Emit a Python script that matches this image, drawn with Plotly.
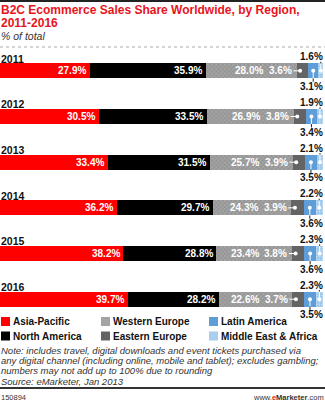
import plotly.graph_objects as go

years = ["2011", "2012", "2013", "2014", "2015", "2016"]
asia_pacific = [27.9, 30.5, 33.4, 36.2, 38.2, 39.7]
north_america = [35.9, 33.5, 31.5, 29.7, 28.8, 28.2]
western_europe = [28.0, 26.9, 25.7, 24.3, 23.4, 22.6]
eastern_europe = [3.6, 3.8, 3.9, 3.9, 3.8, 3.7]
latin_america = [3.1, 3.4, 3.5, 3.6, 3.6, 3.5]
mea = [1.6, 1.9, 2.1, 2.2, 2.3, 2.3]

series_names = ["Asia-Pacific", "North America", "Western Europe",
                "Eastern Europe", "Latin America", "Middle East & Africa"]

W, H = 325, 406
MT, MB = 48, 84
PH = H - MT - MB
FONT = "Liberation Sans, Arial, sans-serif"

def py(px):
    return (H - MB - px) / PH

def pxx(px):
    return px / W

idx = list(range(len(years)))
BW = 0.33

fig = go.Figure()
colors = {
    "Asia-Pacific": "#ff0000",
    "North America": "#000000",
    "Western Europe": "#a4a4a4",
    "Eastern Europe": "#646464",
    "Latin America": "#5e9dd8",
    "Middle East & Africa": "#a8cfee",
}
data = [asia_pacific, north_america, western_europe, eastern_europe, latin_america, mea]
for name, vals in zip(series_names, data):
    marker = dict(color=colors[name], line=dict(width=0))
    if name == "Western Europe":
        marker["pattern"] = dict(shape="x", size=3, solidity=0.35,
                                 fgcolor="#c8c8c8", bgcolor="#969696")
    if name == "Middle East & Africa":
        marker["pattern"] = dict(shape=".", size=3, solidity=0.3,
                                 fgcolor="#e6f2fb", bgcolor="#9ec8ec")
    fig.add_trace(go.Bar(y=idx, x=vals, orientation="h", width=BW,
                         marker=marker, name=name, showlegend=False,
                         hoverinfo="skip"))

ann = []
shapes = []
dots_x, dots_y = [], []
lab_font = dict(family=FONT, size=10, color="white")
dark_font = dict(family=FONT, size=10, color="#111")

for i in idx:
    c1 = asia_pacific[i]
    c2 = c1 + north_america[i]
    c3 = c2 + western_europe[i]
    c4 = c3 + eastern_europe[i]
    c5 = c4 + latin_america[i]
    c6 = c5 + mea[i]
    # year label
    ann.append(dict(x=0, xref="paper", y=i - 0.27, yref="y", xanchor="left",
                    yanchor="middle", text="<b>%s</b>" % years[i],
                    showarrow=False, font=dict(family=FONT, size=10.5, color="#111"),
                    borderpad=0))
    # inside labels
    ann.append(dict(x=c1 - 0.9, y=i, xref="x", yref="y", xanchor="right",
                    yanchor="middle", text="<b>%.1f%%</b>" % asia_pacific[i],
                    showarrow=False, font=lab_font, borderpad=0))
    ann.append(dict(x=c2 - 0.9, y=i, xref="x", yref="y", xanchor="right",
                    yanchor="middle", text="<b>%.1f%%</b>" % north_america[i],
                    showarrow=False, font=lab_font, borderpad=0))
    ann.append(dict(x=c3 - 10.0, y=i, xref="x", yref="y", xanchor="right",
                    yanchor="middle", text="<b>%.1f%%</b>" % western_europe[i],
                    showarrow=False, font=lab_font, borderpad=0))
    ann.append(dict(x=c3 - 1.1, y=i, xref="x", yref="y", xanchor="right",
                    yanchor="middle", text="<b>%.1f%%</b>" % eastern_europe[i],
                    showarrow=False, font=lab_font, borderpad=0))
    # EE leader
    shapes.append(dict(type="line", xref="x", yref="y", x0=c3 - 1.0, x1=c3 + 1.1,
                       y0=i, y1=i, line=dict(color="white", width=1)))
    dots_x.append(c3 + 1.1); dots_y.append(i)
    # LA
    xla = (c4 + c5) / 2
    shapes.append(dict(type="line", xref="x", yref="y", x0=xla, x1=xla,
                       y0=i, y1=i + BW / 2, line=dict(color="white", width=1)))
    shapes.append(dict(type="line", xref="x", yref="y", x0=xla, x1=xla,
                       y0=i + BW / 2, y1=i + 0.24, line=dict(color="#222", width=1)))
    dots_x.append(xla); dots_y.append(i)
    ann.append(dict(x=100.4, y=i + 0.34, xref="x", yref="y", xanchor="right",
                    yanchor="middle", text="<b>%.1f%%</b>" % latin_america[i],
                    showarrow=False, font=dark_font, borderpad=0))
    # MEA
    xme = (c5 + c6) / 2
    shapes.append(dict(type="line", xref="x", yref="y", x0=xme, x1=xme,
                       y0=i, y1=i - BW / 2, line=dict(color="white", width=1)))
    shapes.append(dict(type="line", xref="x", yref="y", x0=xme, x1=xme,
                       y0=i - BW / 2, y1=i - 0.2, line=dict(color="#222", width=1)))
    dots_x.append(xme); dots_y.append(i)
    ann.append(dict(x=100.4, y=i - 0.31, xref="x", yref="y", xanchor="right",
                    yanchor="middle", text="<b>%.1f%%</b>" % mea[i],
                    showarrow=False, font=dark_font, borderpad=0))

fig.add_trace(go.Scatter(x=dots_x, y=dots_y, mode="markers",
                         marker=dict(color="white", size=4, line=dict(width=0)),
                         showlegend=False, hoverinfo="skip"))

# Title and subtitle
ann.append(dict(x=0, xref="paper", y=py(10), yref="paper", xanchor="left",
                yanchor="middle", text="<b>B2C Ecommerce Sales Share Worldwide, by Region,</b>",
                showarrow=False, font=dict(family=FONT, size=12, color="#e8141c"), borderpad=0))
ann.append(dict(x=0, xref="paper", y=py(23), yref="paper", xanchor="left",
                yanchor="middle", text="<b>2011-2016</b>",
                showarrow=False, font=dict(family=FONT, size=12, color="#e8141c"), borderpad=0))
ann.append(dict(x=0, xref="paper", y=py(36), yref="paper", xanchor="left",
                yanchor="middle", text="<i>% of total</i>",
                showarrow=False, font=dict(family=FONT, size=10.5, color="#333"), borderpad=0))

shapes.append(dict(type="line", xref="paper", yref="paper", x0=0, x1=1,
                   y0=py(1), y1=py(1), line=dict(color="#222", width=2)))
shapes.append(dict(type="line", xref="paper", yref="paper", x0=0, x1=1,
                   y0=py(47), y1=py(47), line=dict(color="#aaa", width=1, dash="dot")))

# Legend (manual)
legend_pos = [("Asia-Pacific", 0, 321.5), ("Western Europe", 100, 321.5),
              ("Latin America", 208, 321.5), ("North America", 0, 336),
              ("Eastern Europe", 100, 336), ("Middle East & Africa", 208, 336)]
for name, lx, ly in legend_pos:
    shapes.append(dict(type="rect", xref="paper", yref="paper",
                       x0=pxx(lx + 1), x1=pxx(lx + 10), y0=py(ly - 4.5), y1=py(ly + 4.5),
                       fillcolor=colors[name], line=dict(width=0)))
    ann.append(dict(x=pxx(lx + 12), xref="paper", y=py(ly), yref="paper",
                    xanchor="left", yanchor="middle", text="<b>%s</b>" % name,
                    showarrow=False, font=dict(family=FONT, size=10, color="#111"),
                    borderpad=0))

notes = ["Note: includes travel, digital downloads and event tickets purchased via",
         "any digital channel (including online, mobile and tablet); excludes gambling;",
         "numbers may not add up to 100% due to rounding",
         "Source: eMarketer, Jan 2013"]
for k, t in enumerate(notes):
    ann.append(dict(x=0, xref="paper", y=py(350.3 + k * 10.3), yref="paper",
                    xanchor="left", yanchor="middle", text="<i>%s</i>" % t,
                    showarrow=False, font=dict(family=FONT, size=9.5, color="#333"),
                    borderpad=0))

shapes.append(dict(type="line", xref="paper", yref="paper", x0=0, x1=1,
                   y0=py(388), y1=py(388), line=dict(color="#333", width=2)))
ann.append(dict(x=0, xref="paper", y=py(397), yref="paper", xanchor="left",
                yanchor="middle", text="150894", showarrow=False,
                font=dict(family=FONT, size=7.5, color="#333"), borderpad=0))
ann.append(dict(x=1, xref="paper", y=py(397), yref="paper", xanchor="right",
                yanchor="middle",
                text="www.<b><span style='color:#e8141c'>e</span>Marketer</b>.com",
                showarrow=False, font=dict(family=FONT, size=7.5, color="#333"), borderpad=0))

fig.update_layout(
    width=W, height=H, barmode="stack",
    margin=dict(l=0, r=0, t=MT, b=MB, pad=0),
    paper_bgcolor="white", plot_bgcolor="white",
    xaxis=dict(range=[0, 100.6], visible=False, fixedrange=True),
    yaxis=dict(range=[5.5, -0.5], visible=False, fixedrange=True),
    annotations=ann, shapes=shapes, showlegend=False,
)

fig.write_html("out.html", config={"displayModeBar": False})
